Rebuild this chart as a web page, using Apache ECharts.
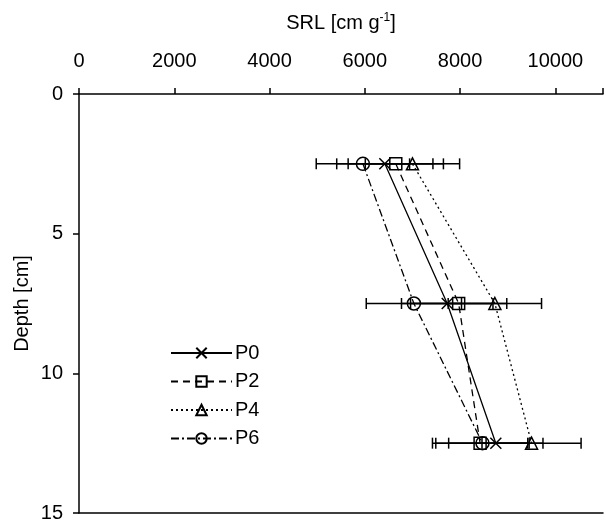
<!DOCTYPE html>
<html>
<head>
<meta charset="utf-8">
<script src="https://cdn.jsdelivr.net/npm/echarts@6/dist/echarts.min.js"></script>
<style>html,body{margin:0;padding:0;background:#fff}#c{width:606px;height:525px}</style>
</head>
<body>
<div id="c"></div>
<script>
// ---- data ----
const depths = [2.5, 7.5, 12.5];
const seriesNames = ['P0', 'P2', 'P4', 'P6'];
const P0 = [6420, 7730, 8750];
const P0err = [1010, 960, 990];
const P2 = [6650, 7970, 8420];
const P2err = [1000, 1010, 1000];
const P4 = [7000, 8730, 9500];
const P4err = [990, 980, 1040];
const P6 = [5960, 7030, 8470];
const P6err = [980, 1000, 980];
const xTicks = [0, 2000, 4000, 6000, 8000, 10000];
const yTicks = [0, 5, 10, 15];

const values = [P0, P2, P4, P6];
const errors = [P0err, P2err, P4err, P6err];
const symbols = ['path://M0,0L10,10M10,0L0,10', 'rect', 'triangle', 'circle'];
const symbolSizes = [11, 12, 12, 13];
const dashes = ['solid', [7, 5], [2, 3], [8, 3, 2, 3]];

const font = 'Liberation Sans, Arial, sans-serif';
const chart = echarts.init(document.getElementById('c'));

const errData = [];
values.forEach((v, i) => v.forEach((x, j) => errData.push([x - errors[i][j], x + errors[i][j], depths[j]])));

const series = [{
  type: 'custom',
  name: 'err',
  clip: false,
  z: 1,
  silent: true,
  data: errData,
  renderItem: function (params, api) {
    const a = api.coord([api.value(0), api.value(2)]);
    const b = api.coord([api.value(1), api.value(2)]);
    const h = 5.5;
    const st = { stroke: '#000', lineWidth: 1.5, fill: null };
    return { type: 'group', children: [
      { type: 'line', shape: { x1: a[0], y1: a[1], x2: b[0], y2: b[1] }, style: st },
      { type: 'line', shape: { x1: a[0], y1: a[1] - h, x2: a[0], y2: a[1] + h }, style: st },
      { type: 'line', shape: { x1: b[0], y1: b[1] - h, x2: b[0], y2: b[1] + h }, style: st }
    ]};
  }
}];
values.forEach((v, i) => {
  series.push({
    type: 'line',
    name: seriesNames[i],
    z: 3,
    data: v.map((x, j) => [x, depths[j]]),
    symbol: symbols[i],
    symbolSize: symbolSizes[i],
    showAllSymbol: true,
    lineStyle: { color: '#000', width: 1.3, type: dashes[i] },
    itemStyle: { color: 'rgba(0,0,0,0)', borderColor: '#000', borderWidth: 1.5 },
    emphasis: { disabled: true },
    animation: false
  });
});

chart.setOption({
  animation: false,
  textStyle: { fontFamily: font, color: '#000' },
  grid: { left: 79, top: 94, width: 533, height: 419 },
  legend: {
    data: seriesNames,
    orient: 'vertical',
    left: 165,
    top: 338,
    itemWidth: 61,
    itemHeight: 13,
    itemGap: 8.5,
    textStyle: { fontSize: 20, color: '#000', fontFamily: font, padding: [0, 0, 0, -2] }
  },
  xAxis: [{
    type: 'value',
    position: 'top',
    min: 0, max: 11000, interval: 2000,
    name: 'SRL [cm g{sup|-1}]',
    nameLocation: 'middle',
    nameGap: 60,
    nameTextStyle: { fontSize: 20, color: '#000', fontFamily: font,
      rich: { sup: { fontSize: 12, fontFamily: font, color: '#000', verticalAlign: 'bottom', padding: [0, 0, 10, 0] } } },
    axisLine: { lineStyle: { color: '#000', width: 1.5 } },
    axisTick: { show: true, length: 6, lineStyle: { color: '#000', width: 1.5 } },
    axisLabel: { fontSize: 20, color: '#000', margin: 23, fontFamily: font,
      formatter: function (v) { return xTicks.indexOf(v) >= 0 ? String(v) : ''; } },
    splitLine: { show: false }
  }, {
    type: 'value',
    position: 'bottom',
    min: 0, max: 11000,
    axisLine: { lineStyle: { color: '#000', width: 1.5 } },
    axisTick: { show: false },
    axisLabel: { show: false },
    splitLine: { show: false }
  }],
  yAxis: {
    type: 'value',
    inverse: true,
    min: 0, max: 15, interval: 5,
    name: 'Depth [cm]',
    nameLocation: 'middle',
    nameGap: 47,
    nameMoveOverlap: false,
    nameTextStyle: { fontSize: 20, color: '#000', fontFamily: font },
    axisLine: { show: true, lineStyle: { color: '#000', width: 1.5 } },
    axisTick: { show: true, length: 6, lineStyle: { color: '#000', width: 1.5 } },
    axisLabel: { fontSize: 20, color: '#000', margin: 16, fontFamily: font,
      formatter: function (v) { return yTicks.indexOf(v) >= 0 ? String(v) : ''; } },
    splitLine: { show: false }
  },
  series: series
});
</script>
</body>
</html>
